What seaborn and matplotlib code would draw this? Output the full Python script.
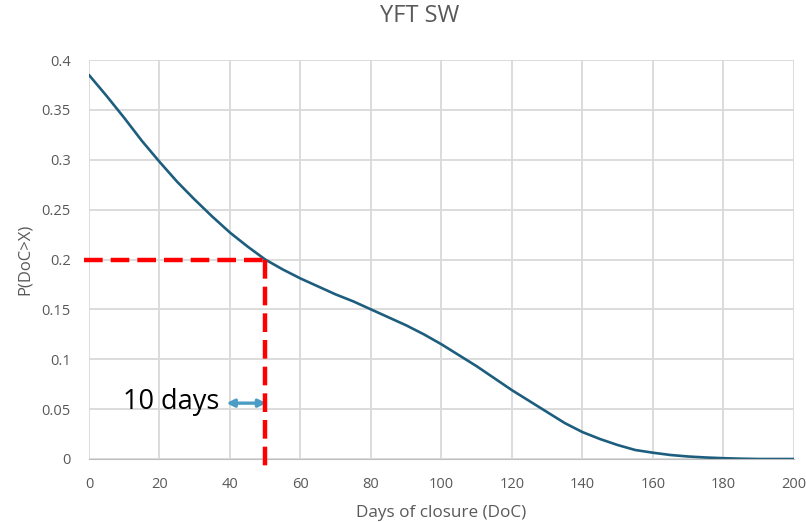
import numpy as np
import pandas as pd
import matplotlib
matplotlib.use("Agg")
from matplotlib import pyplot as plt
import seaborn as sns

# survival curve
days = [0, 5, 10, 15, 20, 25, 30, 35, 40, 45, 50, 55, 60, 65, 70, 75, 80, 85,
        90, 95, 100, 105, 110, 115, 120, 125, 130, 135, 140, 145, 150, 155,
        160, 165, 170, 175, 180, 185, 190, 195, 200]
prob = [0.385, 0.364, 0.342, 0.319, 0.298, 0.278, 0.260, 0.243, 0.227, 0.213,
        0.200, 0.190, 0.181, 0.173, 0.165, 0.158, 0.150, 0.142, 0.134, 0.125,
        0.115, 0.104, 0.093, 0.081, 0.069, 0.058, 0.047, 0.036, 0.027, 0.020,
        0.014, 0.009, 0.0063, 0.004, 0.0025, 0.0015, 0.0008, 0.0003, 0.0,
        0.0, 0.0]
thresh_x = 50
thresh_p = 0.2
arrow_from = 40
arrow_y = 0.056

df = pd.DataFrame({"DoC": days, "P": prob})

sns.set_style("whitegrid", {"grid.color": "#d9d9d9", "axes.edgecolor": "#bfbfbf"})
plt.rcParams["font.family"] = ["Open Sans", "DejaVu Sans"]
plt.rcParams["grid.linewidth"] = 1.3
plt.rcParams["lines.solid_capstyle"] = "round"

fig = plt.figure(figsize=(8.06, 5.22), dpi=100)
ax = fig.add_axes([0.1104, 0.1207, 0.8746, 0.7643])

sns.lineplot(data=df, x="DoC", y="P", ax=ax, color="#1d5e7e", linewidth=1.9)

# threshold lines
ax.plot([-1.5, thresh_x], [thresh_p, thresh_p], color="#ff0000", lw=3.2,
        dashes=(4.2, 1.8), clip_on=False, zorder=5)
ax.plot([thresh_x, thresh_x], [thresh_p, -0.007], color="#ff0000", lw=3.2,
        dashes=(4.2, 1.8), clip_on=False, zorder=5)

ax.annotate("", xy=(arrow_from - 1.0, arrow_y), xytext=(thresh_x + 0.3, arrow_y),
            arrowprops=dict(arrowstyle="<|-|>", color="#4a9cc4", lw=2.4,
                            mutation_scale=11, shrinkA=0, shrinkB=0))
ax.text(arrow_from - 3.0, arrow_y + 0.001, "10 days", fontsize=19.5, ha="right",
        va="center", color="black")

ax.set_xlim(0, 200)
ax.set_ylim(0, 0.4)
ax.set_xticks(range(0, 201, 20))
ax.set_yticks([0, 0.05, 0.1, 0.15, 0.2, 0.25, 0.3, 0.35, 0.4])
ax.set_yticklabels(["0", "0.05", "0.1", "0.15", "0.2", "0.25", "0.3", "0.35", "0.4"])
ax.tick_params(colors="#595959", labelsize=10.5, length=0)
ax.tick_params(axis="x", pad=13)
ax.tick_params(axis="y", pad=13)
for s in ["top", "right", "left"]:
    ax.spines[s].set_visible(False)
ax.spines["bottom"].set_color("#bfbfbf")

ax.set_xlabel("Days of closure (DoC)", color="#595959", fontsize=12.3, labelpad=9)
ax.set_ylabel("P(DoC>X)", color="#595959", fontsize=12, labelpad=6)
ax.set_title("")
fig.text(420 / 806, 1 - 16 / 522, "YFT SW", color="#595959", fontsize=17,
         ha="center", va="center")

fig.savefig("out.png", dpi=100)
